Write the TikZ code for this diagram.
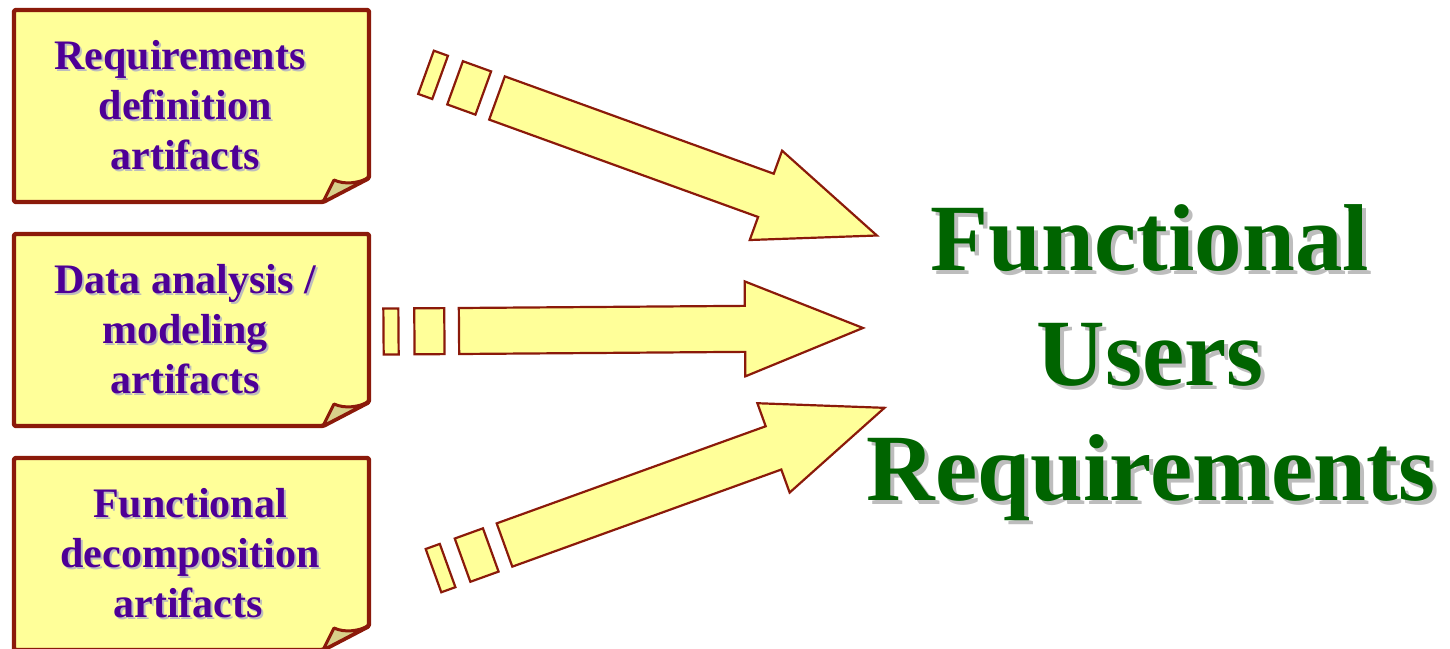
\documentclass[tikz,border=0pt]{standalone}
\usepackage{fontspec}
\setmainfont{Liberation Serif}
\definecolor{noteyellow}{HTML}{FFFF99}
\definecolor{noteborder}{HTML}{8B1A0A}
\definecolor{foldkhaki}{HTML}{D8D08A}
\definecolor{notepurple}{HTML}{4E0096}
\definecolor{titlegreen}{HTML}{006400}
\definecolor{shadowgray}{HTML}{BDBDBD}
\newcommand\shlabel[6]{% name, style, x, y, shadow offset, text
  \node[#2, text=shadowgray, anchor=base] (#1-sh) at (#3+#5,#4+#5) {#6};
  \node[#2, anchor=base] (#1) at (#3,#4) {#6};}
\tikzset{
  notebox/.style={draw=noteborder, line width=4.4pt, fill=noteyellow, rounded corners=1.5pt, line join=round},
  foldst/.style={draw=noteborder, line width=3pt, fill=foldkhaki, line join=round},
  blockarrow/.style={draw=noteborder, line width=2.2pt, fill=noteyellow, line join=miter},
  smalltxt/.style={font=\fontsize{42}{50}\selectfont\bfseries, text=notepurple, inner sep=0pt},
  bigtxt/.style={font=\fontsize{95}{115}\selectfont\bfseries, text=titlegreen, inner sep=0pt},
  blockarr/.pic={
    \draw[blockarrow] (0,-23) -- (286,-23) -- (286,-47.5) -- (404,0) -- (286,47.5) -- (286,23) -- (0,23) -- cycle;
    \draw[blockarrow] (-14.6,-23) rectangle (-44.6,23);
    \draw[blockarrow] (-60.5,-23) rectangle (-75.5,23);
  }
}
\begin{document}
\begin{tikzpicture}[x=1pt,y=-1pt]
\useasboundingbox (0,0) rectangle (1450,648);
\clip (0,0) rectangle (1450,648);
% notes
\foreach \dy/\nm in {0/n1,224/n2,448/n3}{
  \draw[notebox] (14,10+\dy) -- (369,10+\dy) -- (369,178+\dy) -- (323,202+\dy) -- (14,202+\dy) -- cycle;
  \draw[foldst] (323,202+\dy) -- (334,180+\dy) .. controls (345,185+\dy) and (358,183+\dy) .. (369,178+\dy) -- cycle;
}
% note texts
\shlabel{t1a}{smalltxt}{180}{69}{2}{Requirements}
\shlabel{t1b}{smalltxt}{185}{119}{2}{definition}
\shlabel{t1c}{smalltxt}{185}{169}{2}{artifacts}
\shlabel{t2a}{smalltxt}{185}{293}{2}{Data analysis /}
\shlabel{t2b}{smalltxt}{185}{343}{2}{modeling}
\shlabel{t2c}{smalltxt}{185}{393}{2}{artifacts}
\shlabel{t3a}{smalltxt}{190}{517}{2}{Functional}
\shlabel{t3b}{smalltxt}{190}{567}{2}{decomposition}
\shlabel{t3c}{smalltxt}{188}{617}{2}{artifacts}
% arrows
\pic[rotate=-19.9] (a1) at (497,98) {blockarr};
\pic[rotate=0.43] (a2) at (459,331) {blockarr};
\pic[rotate=19.85] (a3) at (504.5,545) {blockarr};
% title
\shlabel{ta}{bigtxt}{1150}{270}{4}{Functional}
\shlabel{tb}{bigtxt}{1150}{385}{4}{Users}
\shlabel{tc}{bigtxt}{1151}{500}{4}{Requirements}
\end{tikzpicture}
\end{document}
